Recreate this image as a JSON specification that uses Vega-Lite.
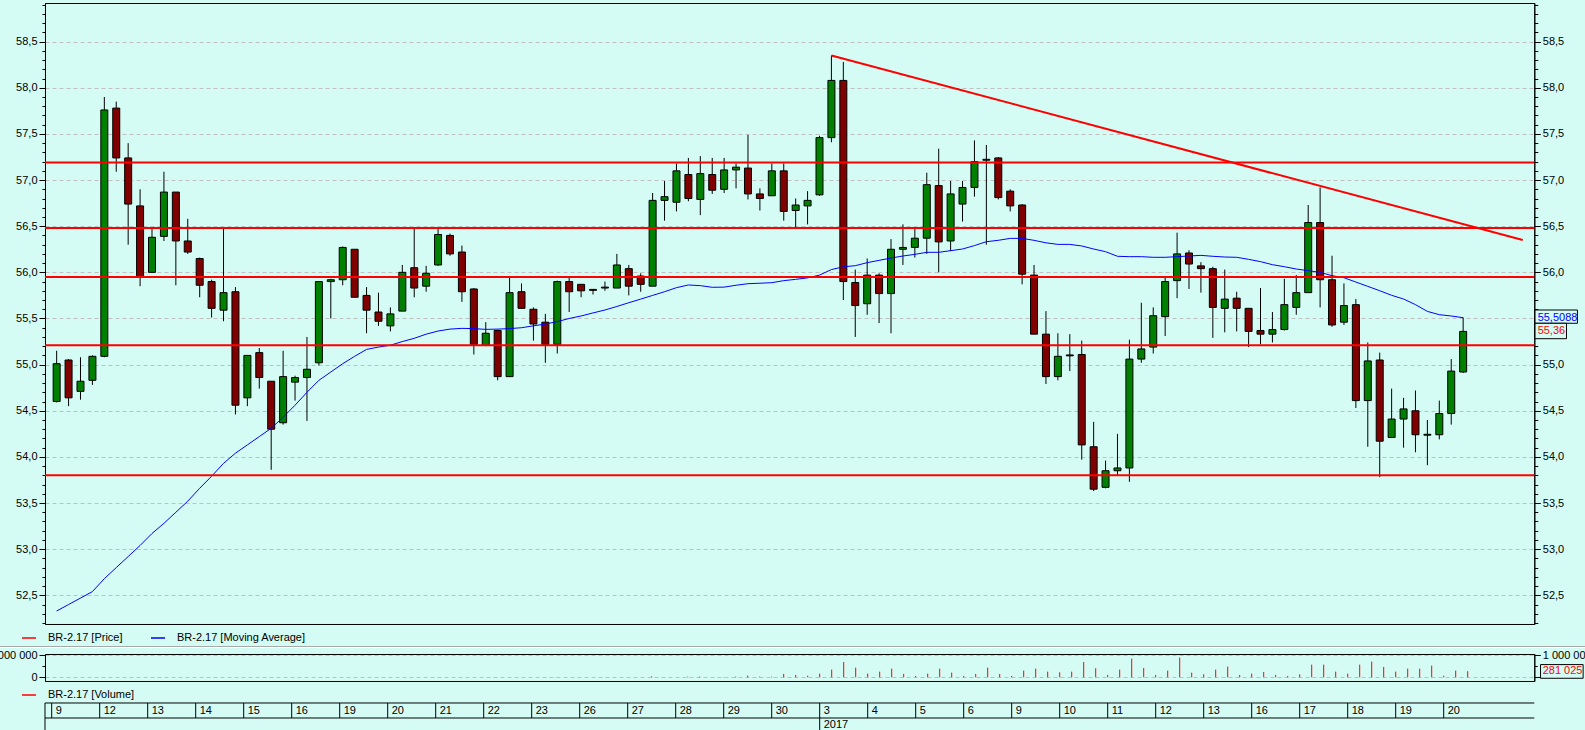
{
"$schema": "https://vega.github.io/schema/vega-lite/v6.json",
"autosize": {"type": "none"},
"padding": {"left": 45, "top": 3, "right": 1540, "bottom": 727},
"background": "#d4fcf4",
"config": {
  "view": {"stroke": null},
  "font": "Liberation Sans",
  "axis": {"labelFont": "Liberation Sans", "labelFontSize": 11, "labelColor": "#000000", "tickColor": "#000000", "domainColor": "#000000", "gridColor": "#c0c0c0", "gridDash": [4, 3], "gridWidth": 1, "title": null, "labelOverlap": false, "labelFlush": false}
},
"datasets": {
  "bars": [
{"k":0,"o":54.60,"h":55.15,"l":54.59,"c":55.01,"ma":52.33},
{"k":1,"o":55.05,"h":55.06,"l":54.55,"c":54.64,"ma":52.40},
{"k":2,"o":54.71,"h":55.08,"l":54.62,"c":54.82,"ma":52.47},
{"k":3,"o":54.83,"h":55.10,"l":54.78,"c":55.09,"ma":52.54},
{"k":4,"o":55.09,"h":57.90,"l":55.08,"c":57.76,"ma":52.68},
{"k":5,"o":57.78,"h":57.85,"l":57.09,"c":57.24,"ma":52.80},
{"k":6,"o":57.24,"h":57.40,"l":56.30,"c":56.74,"ma":52.92},
{"k":7,"o":56.72,"h":56.90,"l":55.85,"c":55.95,"ma":53.04},
{"k":8,"o":56.00,"h":56.47,"l":56.00,"c":56.38,"ma":53.17},
{"k":9,"o":56.39,"h":57.09,"l":56.34,"c":56.87,"ma":53.28},
{"k":10,"o":56.87,"h":56.87,"l":55.86,"c":56.34,"ma":53.40},
{"k":11,"o":56.34,"h":56.58,"l":56.20,"c":56.22,"ma":53.52},
{"k":12,"o":56.15,"h":56.16,"l":55.73,"c":55.86,"ma":53.66},
{"k":13,"o":55.90,"h":55.92,"l":55.51,"c":55.61,"ma":53.79},
{"k":14,"o":55.59,"h":56.47,"l":55.47,"c":55.78,"ma":53.93},
{"k":15,"o":55.79,"h":55.84,"l":54.46,"c":54.56,"ma":54.04},
{"k":16,"o":54.64,"h":55.10,"l":54.55,"c":55.10,"ma":54.13},
{"k":17,"o":55.13,"h":55.18,"l":54.74,"c":54.86,"ma":54.22},
{"k":18,"o":54.82,"h":54.82,"l":53.86,"c":54.30,"ma":54.31},
{"k":19,"o":54.37,"h":55.15,"l":54.35,"c":54.87,"ma":54.43},
{"k":20,"o":54.81,"h":54.88,"l":54.61,"c":54.86,"ma":54.56},
{"k":21,"o":54.86,"h":55.30,"l":54.39,"c":54.95,"ma":54.70},
{"k":22,"o":55.02,"h":55.90,"l":54.99,"c":55.90,"ma":54.83},
{"k":23,"o":55.90,"h":55.93,"l":55.50,"c":55.92,"ma":54.92},
{"k":24,"o":55.92,"h":56.28,"l":55.86,"c":56.27,"ma":55.01},
{"k":25,"o":56.25,"h":56.25,"l":55.73,"c":55.73,"ma":55.09},
{"k":26,"o":55.75,"h":55.84,"l":55.34,"c":55.59,"ma":55.165},
{"k":27,"o":55.57,"h":55.78,"l":55.42,"c":55.47,"ma":55.19},
{"k":28,"o":55.42,"h":55.62,"l":55.36,"c":55.55,"ma":55.21},
{"k":29,"o":55.58,"h":56.08,"l":55.58,"c":56.00,"ma":55.25},
{"k":30,"o":56.05,"h":56.48,"l":55.73,"c":55.83,"ma":55.285},
{"k":31,"o":55.85,"h":56.07,"l":55.79,"c":55.99,"ma":55.33},
{"k":32,"o":56.08,"h":56.48,"l":56.07,"c":56.41,"ma":55.364},
{"k":33,"o":56.40,"h":56.42,"l":56.18,"c":56.20,"ma":55.385},
{"k":34,"o":56.22,"h":56.29,"l":55.68,"c":55.79,"ma":55.393},
{"k":35,"o":55.82,"h":55.83,"l":55.11,"c":55.22,"ma":55.39},
{"k":36,"o":55.21,"h":55.46,"l":55.20,"c":55.34,"ma":55.382},
{"k":37,"o":55.37,"h":55.38,"l":54.83,"c":54.87,"ma":55.385},
{"k":38,"o":54.87,"h":55.94,"l":54.87,"c":55.78,"ma":55.39},
{"k":39,"o":55.79,"h":55.88,"l":55.61,"c":55.61,"ma":55.40},
{"k":40,"o":55.60,"h":55.62,"l":55.26,"c":55.44,"ma":55.42},
{"k":41,"o":55.46,"h":55.55,"l":55.02,"c":55.22,"ma":55.44},
{"k":42,"o":55.22,"h":55.91,"l":55.12,"c":55.90,"ma":55.466,"v":8000},
{"k":43,"o":55.90,"h":55.94,"l":55.57,"c":55.79,"ma":55.50},
{"k":44,"o":55.87,"h":55.87,"l":55.73,"c":55.80,"ma":55.527},
{"k":45,"o":55.815,"h":55.82,"l":55.76,"c":55.805,"ma":55.56},
{"k":46,"o":55.83,"h":55.90,"l":55.80,"c":55.84,"ma":55.592},
{"k":47,"o":55.83,"h":56.20,"l":55.83,"c":56.08,"ma":55.63},
{"k":48,"o":56.04,"h":56.08,"l":55.75,"c":55.85,"ma":55.671},
{"k":49,"o":55.96,"h":55.99,"l":55.79,"c":55.87,"ma":55.71},
{"k":50,"o":55.85,"h":56.86,"l":55.85,"c":56.78,"ma":55.75,"v":46000},
{"k":51,"o":56.78,"h":56.99,"l":56.56,"c":56.82,"ma":55.79},
{"k":52,"o":56.76,"h":57.18,"l":56.66,"c":57.10,"ma":55.834},
{"k":53,"o":57.06,"h":57.24,"l":56.77,"c":56.80,"ma":55.863,"v":31000},
{"k":54,"o":56.79,"h":57.26,"l":56.62,"c":57.07,"ma":55.856,"v":31000},
{"k":55,"o":57.06,"h":57.24,"l":56.85,"c":56.89,"ma":55.838},
{"k":56,"o":56.90,"h":57.24,"l":56.86,"c":57.11,"ma":55.84,"v":15000},
{"k":57,"o":57.11,"h":57.18,"l":56.91,"c":57.14,"ma":55.86,"v":31000},
{"k":58,"o":57.13,"h":57.49,"l":56.79,"c":56.85,"ma":55.877,"v":76000},
{"k":59,"o":56.85,"h":56.91,"l":56.67,"c":56.80,"ma":55.882,"v":31000},
{"k":60,"o":56.83,"h":57.18,"l":56.83,"c":57.10,"ma":55.888,"v":31000},
{"k":61,"o":57.10,"h":57.18,"l":56.56,"c":56.66,"ma":55.91,"v":153000},
{"k":62,"o":56.67,"h":56.80,"l":56.47,"c":56.73,"ma":55.924,"v":107000},
{"k":63,"o":56.72,"h":56.88,"l":56.52,"c":56.78,"ma":55.94,"v":76000},
{"k":64,"o":56.84,"h":57.48,"l":56.83,"c":57.46,"ma":55.97,"v":168000},
{"k":65,"o":57.46,"h":58.35,"l":57.41,"c":58.08,"ma":56.03,"v":352000},
{"k":66,"o":58.08,"h":58.28,"l":55.70,"c":55.90,"ma":56.06,"v":703000},
{"k":67,"o":55.89,"h":56.03,"l":55.30,"c":55.64,"ma":56.072,"v":443000},
{"k":68,"o":55.66,"h":56.15,"l":55.54,"c":55.97,"ma":56.105,"v":168000},
{"k":69,"o":55.97,"h":55.99,"l":55.45,"c":55.77,"ma":56.13,"v":260000},
{"k":70,"o":55.77,"h":56.36,"l":55.34,"c":56.25,"ma":56.155,"v":398000},
{"k":71,"o":56.25,"h":56.52,"l":56.08,"c":56.27,"ma":56.177,"v":153000},
{"k":72,"o":56.27,"h":56.48,"l":56.16,"c":56.37,"ma":56.195,"v":61000},
{"k":73,"o":56.37,"h":57.08,"l":56.20,"c":56.95,"ma":56.217,"v":168000},
{"k":74,"o":56.94,"h":57.34,"l":56.00,"c":56.33,"ma":56.217,"v":398000},
{"k":75,"o":56.34,"h":56.99,"l":56.23,"c":56.85,"ma":56.235,"v":214000},
{"k":76,"o":56.74,"h":56.99,"l":56.55,"c":56.92,"ma":56.253,"v":61000},
{"k":77,"o":56.92,"h":57.43,"l":56.82,"c":57.20,"ma":56.29,"v":153000},
{"k":78,"o":57.215,"h":57.38,"l":56.30,"c":57.225,"ma":56.332,"v":443000},
{"k":79,"o":57.24,"h":57.25,"l":56.79,"c":56.81,"ma":56.347,"v":153000},
{"k":80,"o":56.88,"h":56.90,"l":56.66,"c":56.72,"ma":56.368,"v":61000},
{"k":81,"o":56.73,"h":56.74,"l":55.87,"c":55.98,"ma":56.368,"v":306000},
{"k":82,"o":55.97,"h":56.08,"l":55.33,"c":55.33,"ma":56.347,"v":398000},
{"k":83,"o":55.33,"h":55.58,"l":54.79,"c":54.87,"ma":56.32,"v":260000},
{"k":84,"o":54.87,"h":55.34,"l":54.83,"c":55.09,"ma":56.303,"v":229000},
{"k":85,"o":55.105,"h":55.33,"l":54.93,"c":55.095,"ma":56.303,"v":260000},
{"k":86,"o":55.11,"h":55.26,"l":53.97,"c":54.13,"ma":56.286,"v":703000},
{"k":87,"o":54.11,"h":54.38,"l":53.63,"c":53.65,"ma":56.253,"v":413000},
{"k":88,"o":53.67,"h":53.96,"l":53.66,"c":53.85,"ma":56.224,"v":107000},
{"k":89,"o":53.85,"h":54.25,"l":53.80,"c":53.88,"ma":56.174,"v":352000},
{"k":90,"o":53.88,"h":55.27,"l":53.73,"c":55.06,"ma":56.17,"v":856000},
{"k":91,"o":55.06,"h":55.67,"l":55.02,"c":55.17,"ma":56.17,"v":428000},
{"k":92,"o":55.19,"h":55.62,"l":55.12,"c":55.53,"ma":56.163,"v":107000},
{"k":93,"o":55.52,"h":55.94,"l":55.31,"c":55.90,"ma":56.163,"v":306000},
{"k":94,"o":55.91,"h":56.43,"l":55.72,"c":56.20,"ma":56.17,"v":902000},
{"k":95,"o":56.21,"h":56.24,"l":55.82,"c":56.09,"ma":56.177,"v":214000},
{"k":96,"o":56.07,"h":56.11,"l":55.78,"c":56.04,"ma":56.184,"v":138000},
{"k":97,"o":56.04,"h":56.06,"l":55.29,"c":55.62,"ma":56.174,"v":352000},
{"k":98,"o":55.61,"h":56.03,"l":55.35,"c":55.71,"ma":56.166,"v":489000},
{"k":99,"o":55.72,"h":55.79,"l":55.36,"c":55.61,"ma":56.163,"v":107000},
{"k":100,"o":55.61,"h":55.61,"l":55.19,"c":55.36,"ma":56.141,"v":168000},
{"k":101,"o":55.37,"h":55.83,"l":55.22,"c":55.33,"ma":56.116,"v":245000},
{"k":102,"o":55.33,"h":55.57,"l":55.24,"c":55.38,"ma":56.083,"v":107000},
{"k":103,"o":55.38,"h":55.93,"l":55.37,"c":55.65,"ma":56.061,"v":61000},
{"k":104,"o":55.62,"h":55.97,"l":55.54,"c":55.78,"ma":56.036,"v":138000},
{"k":105,"o":55.78,"h":56.73,"l":55.78,"c":56.54,"ma":56.018,"v":581000},
{"k":106,"o":56.54,"h":56.92,"l":55.62,"c":55.92,"ma":56.0,"v":581000},
{"k":107,"o":55.92,"h":56.18,"l":55.41,"c":55.43,"ma":55.964,"v":260000},
{"k":108,"o":55.46,"h":55.88,"l":55.43,"c":55.64,"ma":55.942,"v":168000},
{"k":109,"o":55.65,"h":55.71,"l":54.53,"c":54.61,"ma":55.895,"v":581000},
{"k":110,"o":54.61,"h":55.24,"l":54.11,"c":55.04,"ma":55.848,"v":719000},
{"k":111,"o":55.05,"h":55.13,"l":53.78,"c":54.17,"ma":55.801,"v":474000},
{"k":112,"o":54.21,"h":54.74,"l":54.21,"c":54.41,"ma":55.751,"v":260000},
{"k":113,"o":54.41,"h":54.64,"l":54.10,"c":54.52,"ma":55.711,"v":398000},
{"k":114,"o":54.50,"h":54.72,"l":54.05,"c":54.24,"ma":55.65,"v":398000},
{"k":115,"o":54.235,"h":54.40,"l":53.91,"c":54.245,"ma":55.577,"v":535000},
{"k":116,"o":54.24,"h":54.61,"l":54.19,"c":54.47,"ma":55.541,"v":76000},
{"k":117,"o":54.47,"h":55.06,"l":54.35,"c":54.93,"ma":55.527,"v":306000},
{"k":118,"o":54.92,"h":55.51,"l":54.91,"c":55.36,"ma":55.5088,"v":281025}
  ],
  "levels": [{"p": 57.19}, {"p": 56.48}, {"p": 55.95}, {"p": 55.21}, {"p": 53.80}],
  "trend": [{"k": 65, "p": 58.35}, {"k": 123, "p": 56.35}],
  "days": [
    {"day": "", "start": -0.558}, {"day": "9", "start": 0}, {"day": "12", "start": 4}, {"day": "13", "start": 8}, {"day": "14", "start": 12},
    {"day": "15", "start": 16}, {"day": "16", "start": 20}, {"day": "19", "start": 24}, {"day": "20", "start": 28}, {"day": "21", "start": 32},
    {"day": "22", "start": 36}, {"day": "23", "start": 40}, {"day": "26", "start": 44}, {"day": "27", "start": 48}, {"day": "28", "start": 52},
    {"day": "29", "start": 56}, {"day": "30", "start": 60}, {"day": "3", "start": 64}, {"day": "4", "start": 68}, {"day": "5", "start": 72},
    {"day": "6", "start": 76}, {"day": "9", "start": 80}, {"day": "10", "start": 84}, {"day": "11", "start": 88}, {"day": "12", "start": 92},
    {"day": "13", "start": 96}, {"day": "16", "start": 100}, {"day": "17", "start": 104}, {"day": "18", "start": 108}, {"day": "19", "start": 112},
    {"day": "20", "start": 116}
  ],
  "years": [{"year": "", "start": -0.558}, {"year": "2017", "start": 64}]
},
"bounds": "flush",
"spacing": 30,
"resolve": {"scale": {"color": "independent"}, "legend": {"color": "independent"}},
"vconcat": [
  {
    "width": 1489.3,
    "height": 621,
    "view": {"stroke": "#000000", "strokeWidth": 1},
    "data": {"name": "bars"},
    "resolve": {"axis": {"y": "independent"}},
    "layer": [
      {
        "mark": {"type": "rule", "color": "#000000", "strokeWidth": 1},
        "encoding": {
          "x": {"field": "k", "type": "quantitative", "scale": {"domain": [-0.558, 123.55], "nice": false, "zero": false},
                "axis": {"values": [0,4,8,12,16,20,24,28,32,36,40,44,48,52,56,60,64,68,72,76,80,84,88,92,96,100,104,108,112,116], "grid": true, "labels": false, "ticks": false, "domain": false}},
          "y": {"field": "l", "type": "quantitative", "scale": {"domain": [52.189, 58.919], "nice": false, "zero": false},
                "axis": {"orient": "left", "grid": true, "domainWidth": 1,
                  "values": [52.2,52.3,52.4,52.5,52.6,52.7,52.8,52.9,53,53.1,53.2,53.3,53.4,53.5,53.6,53.7,53.8,53.9,54,54.1,54.2,54.3,54.4,54.5,54.6,54.7,54.8,54.9,55,55.1,55.2,55.3,55.4,55.5,55.6,55.7,55.8,55.9,56,56.1,56.2,56.3,56.4,56.5,56.6,56.7,56.8,56.9,57,57.1,57.2,57.3,57.4,57.5,57.6,57.7,57.8,57.9,58,58.1,58.2,58.3,58.4,58.5,58.6,58.7,58.8,58.9],
                  "labelExpr": "abs(datum.value*2 - round(datum.value*2)) < 0.01 ? replace(format(datum.value, '.1f'), '.', ',') : ''",
                  "tickSize": {"condition": {"test": "abs(datum.value*2 - round(datum.value*2)) < 0.01", "value": 6}, "value": 3},
                  "gridOpacity": {"condition": {"test": "abs(datum.value*2 - round(datum.value*2)) < 0.01", "value": 1}, "value": 0},
                  "labelPadding": 2}},
          "y2": {"field": "h"}
        }
      },
      {
        "mark": {"type": "bar", "width": 7, "stroke": "#000000", "strokeWidth": 1},
        "encoding": {
          "x": {"field": "k", "type": "quantitative", "scale": {"domain": [-0.558, 123.55], "nice": false, "zero": false}, "axis": null},
          "y": {"field": "o", "type": "quantitative", "scale": {"domain": [52.189, 58.919], "nice": false, "zero": false}, "axis": null},
          "y2": {"field": "c"},
          "fill": {"condition": {"test": "datum.c >= datum.o", "value": "#008000"}, "value": "#800000"}
        }
      },
      {
        "mark": {"type": "line", "strokeWidth": 1},
        "encoding": {
          "x": {"field": "k", "type": "quantitative", "scale": {"domain": [-0.558, 123.55], "nice": false, "zero": false}, "axis": null},
          "y": {"field": "ma", "type": "quantitative", "scale": {"domain": [52.189, 58.919], "nice": false, "zero": false}, "axis": null},
          "color": {"datum": "BR-2.17 [Moving Average]", "type": "nominal",
                    "scale": {"domain": ["BR-2.17 [Price]", "BR-2.17 [Moving Average]"], "range": ["#ff0000", "#0000ff"]},
                    "legend": {"orient": "none", "legendX": -24, "legendY": 627, "direction": "horizontal", "title": null,
                               "symbolType": "stroke", "symbolSize": 196, "symbolStrokeWidth": 1.5,
                               "labelFont": "Liberation Sans", "labelFontSize": 11, "labelColor": "#000000",
                               "labelOffset": 11, "columnPadding": 25, "padding": 0}}
        }
      },
      {
        "data": {"name": "levels"},
        "mark": {"type": "rule", "color": "#ff0000", "strokeWidth": 2},
        "encoding": {
          "y": {"field": "p", "type": "quantitative", "scale": {"domain": [52.189, 58.919], "nice": false, "zero": false},
                "axis": {"orient": "right", "grid": false, "domainWidth": 1,
                  "values": [52.2,52.3,52.4,52.5,52.6,52.7,52.8,52.9,53,53.1,53.2,53.3,53.4,53.5,53.6,53.7,53.8,53.9,54,54.1,54.2,54.3,54.4,54.5,54.6,54.7,54.8,54.9,55,55.1,55.2,55.3,55.4,55.5,55.6,55.7,55.8,55.9,56,56.1,56.2,56.3,56.4,56.5,56.6,56.7,56.8,56.9,57,57.1,57.2,57.3,57.4,57.5,57.6,57.7,57.8,57.9,58,58.1,58.2,58.3,58.4,58.5,58.6,58.7,58.8,58.9],
                  "labelExpr": "abs(datum.value*2 - round(datum.value*2)) < 0.01 && abs(datum.value - 55.5) > 0.01 ? replace(format(datum.value, '.1f'), '.', ',') : ''",
                  "tickSize": {"condition": {"test": "abs(datum.value*2 - round(datum.value*2)) < 0.01", "value": 6}, "value": 3.5},
                  "labelPadding": 2}}
        }
      },
      {
        "data": {"name": "trend"},
        "mark": {"type": "line", "color": "#ff0000", "strokeWidth": 2},
        "encoding": {
          "x": {"field": "k", "type": "quantitative", "scale": {"domain": [-0.558, 123.55], "nice": false, "zero": false}, "axis": null},
          "y": {"field": "p", "type": "quantitative", "scale": {"domain": [52.189, 58.919], "nice": false, "zero": false}, "axis": null}
        }
      },
      {
        "data": {"values": [{"t": "55,5088", "p": 55.5088}]},
        "mark": {"type": "rect", "fill": "#d4fcf4", "stroke": "#000000", "strokeWidth": 1},
        "encoding": {
          "x": {"datum": 124.03, "type": "quantitative", "scale": {"domain": [-0.558, 123.55], "nice": false, "zero": false}, "axis": null},
          "x2": {"datum": 127.59},
          "y": {"datum": 55.592, "type": "quantitative", "scale": {"domain": [52.189, 58.919], "nice": false, "zero": false}, "axis": null},
          "y2": {"datum": 55.448}
        }
      },
      {
        "data": {"values": [{"t": "55,5088", "p": 55.5088}]},
        "mark": {"type": "text", "align": "left", "baseline": "middle", "font": "Liberation Sans", "fontSize": 11, "color": "#0000ff"},
        "encoding": {
          "x": {"datum": 124.25, "type": "quantitative", "scale": {"domain": [-0.558, 123.55], "nice": false, "zero": false}, "axis": null},
          "y": {"field": "p", "type": "quantitative", "scale": {"domain": [52.189, 58.919], "nice": false, "zero": false}, "axis": null},
          "text": {"field": "t"}
        }
      },
      {
        "data": {"values": [{"t": "55,36", "p": 55.36}]},
        "mark": {"type": "rect", "fill": "#d4fcf4", "stroke": "#000000", "strokeWidth": 1},
        "encoding": {
          "x": {"datum": 124.03, "type": "quantitative", "scale": {"domain": [-0.558, 123.55], "nice": false, "zero": false}, "axis": null},
          "x2": {"datum": 126.67},
          "y": {"datum": 55.448, "type": "quantitative", "scale": {"domain": [52.189, 58.919], "nice": false, "zero": false}, "axis": null},
          "y2": {"datum": 55.281}
        }
      },
      {
        "data": {"values": [{"t": "55,36", "p": 55.36}]},
        "mark": {"type": "text", "align": "left", "baseline": "middle", "font": "Liberation Sans", "fontSize": 11, "color": "#ff0000"},
        "encoding": {
          "x": {"datum": 124.25, "type": "quantitative", "scale": {"domain": [-0.558, 123.55], "nice": false, "zero": false}, "axis": null},
          "y": {"field": "p", "type": "quantitative", "scale": {"domain": [52.189, 58.919], "nice": false, "zero": false}, "axis": null},
          "text": {"field": "t"}
        }
      }
    ]
  },
  {
    "bounds": "flush",
    "spacing": 22,
    "resolve": {"scale": {"color": "independent"}, "legend": {"color": "independent"}},
    "vconcat": [
      {
        "width": 1489.3,
        "height": 27,
        "view": {"stroke": "#000000", "strokeWidth": 1},
        "data": {"name": "bars"},
        "resolve": {"axis": {"y": "independent"}},
        "layer": [
          {
            "mark": {"type": "rule", "strokeWidth": 1},
            "encoding": {
              "x": {"field": "k", "type": "quantitative", "scale": {"domain": [-0.558, 123.55], "nice": false, "zero": false},
                    "axis": {"values": [0,4,8,12,16,20,24,28,32,36,40,44,48,52,56,60,64,68,72,76,80,84,88,92,96,100,104,108,112,116], "grid": true, "labels": false, "ticks": false, "domain": false}},
              "y": {"field": "v", "type": "quantitative", "scale": {"domain": [-169700, 1068800], "nice": false, "zero": false},
                    "axis": {"orient": "left", "grid": true, "values": [0, 500000, 1000000],
                      "labelExpr": "datum.value == 0 ? '0' : (datum.value == 1000000 ? '1 000 000' : '')",
                      "tickSize": {"condition": {"test": "datum.value == 500000", "value": 3}, "value": 6},
                      "gridOpacity": {"condition": {"test": "datum.value == 500000", "value": 0}, "value": 1},
                      "labelPadding": 2}},
              "y2": {"datum": 0},
              "color": {"datum": "BR-2.17 [Volume]", "type": "nominal",
                        "scale": {"domain": ["BR-2.17 [Volume]"], "range": ["#ff0000"]},
                        "legend": {"orient": "none", "legendX": -24, "legendY": 33, "direction": "horizontal", "title": null,
                                   "symbolType": "stroke", "symbolSize": 196, "symbolStrokeWidth": 1.5,
                                   "labelFont": "Liberation Sans", "labelFontSize": 11, "labelColor": "#000000",
                                   "labelOffset": 11, "padding": 0}}
            }
          },
          {
            "data": {"values": [{"t": "281 025", "v": 281025}]},
            "mark": {"type": "rect", "fill": "#d4fcf4", "stroke": "#000000", "strokeWidth": 1},
            "encoding": {
              "x": {"datum": 124.07, "type": "quantitative", "scale": {"domain": [-0.558, 123.55], "nice": false, "zero": false}, "axis": null},
              "x2": {"datum": 127.62},
              "y": {"datum": 583000, "type": "quantitative", "scale": {"domain": [-169700, 1068800], "nice": false, "zero": false},
                    "axis": {"orient": "right", "grid": false, "values": [0, 500000, 1000000],
                      "labelExpr": "datum.value == 1000000 ? '1 000 000' : ''",
                      "tickSize": {"condition": {"test": "datum.value == 500000", "value": 3}, "value": 6},
                      "labelPadding": 2}},
              "y2": {"datum": -44800}
            }
          },
          {
            "data": {"values": [{"t": "281 025", "v": 281025}]},
            "mark": {"type": "text", "align": "left", "baseline": "middle", "font": "Liberation Sans", "fontSize": 11, "color": "#ff0000"},
            "encoding": {
              "x": {"datum": 124.25, "type": "quantitative", "scale": {"domain": [-0.558, 123.55], "nice": false, "zero": false}, "axis": null},
              "y": {"field": "v", "type": "quantitative", "scale": {"domain": [-169700, 1068800], "nice": false, "zero": false}, "axis": null},
              "text": {"field": "t"}
            }
          },
          {
            "data": {"values": [{"line": "dark"}]},
            "mark": {"type": "rule", "color": "#a8a8a8", "strokeWidth": 1},
            "encoding": {
              "x": {"datum": -4.4, "type": "quantitative", "scale": {"domain": [-0.558, 123.55], "nice": false, "zero": false}, "axis": null},
              "x2": {"datum": 128.2},
              "y": {"datum": 1412000, "type": "quantitative", "scale": {"domain": [-169700, 1068800], "nice": false, "zero": false}, "axis": null}
            }
          },
          {
            "data": {"values": [{"line": "light"}]},
            "mark": {"type": "rule", "color": "#ffffff", "strokeWidth": 1},
            "encoding": {
              "x": {"datum": -4.4, "type": "quantitative", "scale": {"domain": [-0.558, 123.55], "nice": false, "zero": false}, "axis": null},
              "x2": {"datum": 128.2},
              "y": {"datum": 1366000, "type": "quantitative", "scale": {"domain": [-169700, 1068800], "nice": false, "zero": false}, "axis": null}
            }
          }
        ]
      },
      {
        "width": 1489.3,
        "height": 27,
        "view": {"stroke": null},
        "layer": [
          {
            "data": {"values": [{"r": 0}, {"r": 15}]},
            "mark": {"type": "rule", "color": "#000000", "strokeWidth": 1},
            "encoding": {
              "x": {"datum": -0.558, "type": "quantitative", "scale": {"domain": [-0.558, 123.55], "nice": false, "zero": false}, "axis": null},
              "x2": {"datum": 123.55},
              "y": {"field": "r", "type": "quantitative", "scale": {"domain": [0, 27], "reverse": true, "nice": false, "zero": false}, "axis": null}
            }
          },
          {
            "data": {"name": "days"},
            "mark": {"type": "rule", "color": "#000000", "strokeWidth": 1},
            "encoding": {
              "x": {"field": "start", "type": "quantitative", "scale": {"domain": [-0.558, 123.55], "nice": false, "zero": false}, "axis": null},
              "y": {"datum": 0, "type": "quantitative", "scale": {"domain": [0, 27], "reverse": true, "nice": false, "zero": false}, "axis": null},
              "y2": {"datum": 15}
            }
          },
          {
            "data": {"name": "days"},
            "mark": {"type": "text", "align": "left", "baseline": "middle", "dx": 4, "font": "Liberation Sans", "fontSize": 11, "color": "#000000"},
            "encoding": {
              "x": {"field": "start", "type": "quantitative", "scale": {"domain": [-0.558, 123.55], "nice": false, "zero": false}, "axis": null},
              "y": {"datum": 8, "type": "quantitative", "scale": {"domain": [0, 27], "reverse": true, "nice": false, "zero": false}, "axis": null},
              "text": {"field": "day"}
            }
          },
          {
            "data": {"name": "years"},
            "mark": {"type": "rule", "color": "#000000", "strokeWidth": 1},
            "encoding": {
              "x": {"field": "start", "type": "quantitative", "scale": {"domain": [-0.558, 123.55], "nice": false, "zero": false}, "axis": null},
              "y": {"datum": 15, "type": "quantitative", "scale": {"domain": [0, 27], "reverse": true, "nice": false, "zero": false}, "axis": null},
              "y2": {"datum": 27}
            }
          },
          {
            "data": {"name": "years"},
            "mark": {"type": "text", "align": "left", "baseline": "middle", "dx": 4, "font": "Liberation Sans", "fontSize": 11, "color": "#000000"},
            "encoding": {
              "x": {"field": "start", "type": "quantitative", "scale": {"domain": [-0.558, 123.55], "nice": false, "zero": false}, "axis": null},
              "y": {"datum": 22, "type": "quantitative", "scale": {"domain": [0, 27], "reverse": true, "nice": false, "zero": false}, "axis": null},
              "text": {"field": "year"}
            }
          }
        ]
      }
    ]
  }
]
}
